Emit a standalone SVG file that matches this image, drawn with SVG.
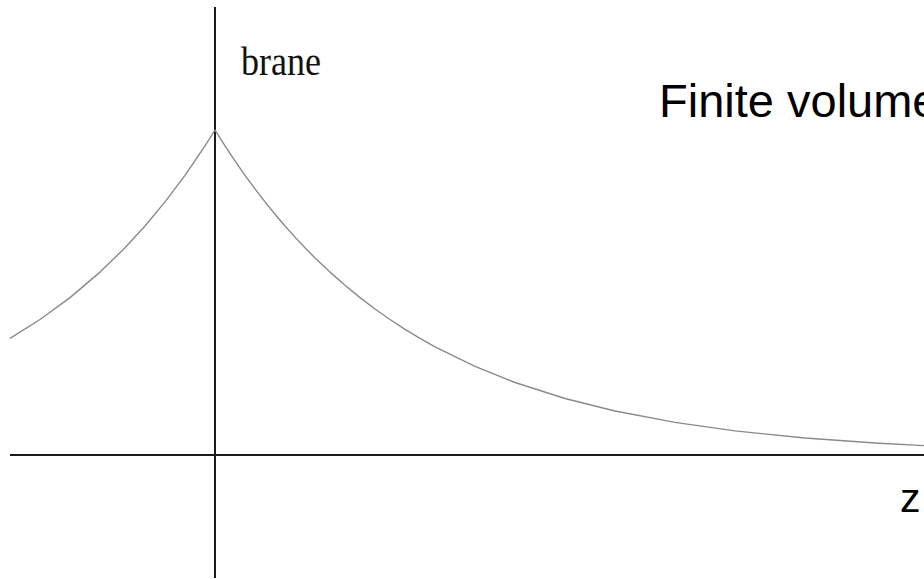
<svg xmlns="http://www.w3.org/2000/svg" width="924" height="579" viewBox="0 0 924 579">
<style>
.axis{stroke:#1a1a1a;stroke-width:2;fill:none}
.curve{stroke:#8a8a8a;stroke-width:1.4;fill:none;stroke-linejoin:round}
.serif{font-family:"Liberation Serif","Times New Roman",serif;fill:#111}
.sans{font-family:"Liberation Sans",Arial,sans-serif;fill:#000}
</style>
<rect width="924" height="579" fill="#fff"/>
<g id="axes">
<line class="axis" x1="215" y1="7" x2="215" y2="578"/>
<line class="axis" x1="10" y1="455" x2="924" y2="455"/>
</g>
<g id="profile">
<polyline class="curve" points="10,338.4 40,319.5 70,297.6 100,272.1 125,247.8 145,226 165,201.9 185,175.3 205,145.8 215,130 225,145.8 235,160.9 245,175.3 255,188.9 265,201.9 275,214.2 285,226 295,237.1 305,247.8 315,257.9 330,272.1 345,285.3 360,297.6 375,309 390,319.5 405,329.3 420,338.4 435,346.8 475,366.4 515,382.5 565,398.5 615,411 675,422.4 735,430.9 805,438 875,443 924,445.6"/>
</g>
<g id="labels">
<text class="serif" x="241" y="75" font-size="41" textLength="80" lengthAdjust="spacingAndGlyphs">brane</text>
<text class="sans" x="659" y="117" font-size="47">Finite volume</text>
<text class="sans" x="900" y="512" font-size="41">z</text>
</g>
</svg>
